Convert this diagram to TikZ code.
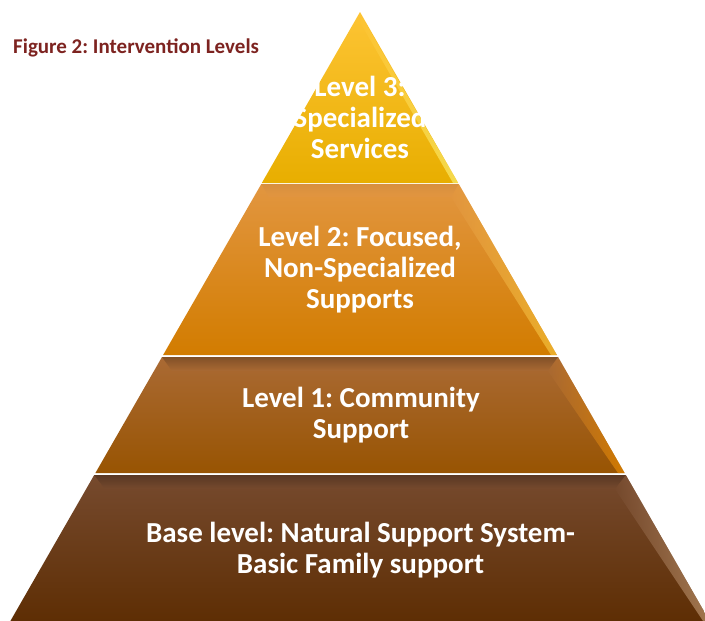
\documentclass[tikz,border=0pt]{standalone}
\usepackage{fontspec}
\setmainfont{Carlito}
\usetikzlibrary{calc}
\definecolor{figred}{RGB}{125,35,32}
\definecolor{goldtop}{RGB}{253,196,52}
\definecolor{goldbot}{RGB}{232,174,0}
\definecolor{ambertop}{RGB}{226,150,64}
\definecolor{amberbot}{RGB}{210,124,0}
\definecolor{rusttop}{RGB}{170,106,52}
\definecolor{rustbot}{RGB}{152,84,2}
\definecolor{browntop}{RGB}{118,74,46}
\definecolor{brownbot}{RGB}{94,46,4}
\definecolor{blush}{RGB}{242,200,176}
\newcommand{\lvltext}{\fontsize{29}{31}\selectfont\bfseries\frenchspacing}
\tikzset{
  tierlabel/.style={anchor=base,align=center,inner sep=0,text=white,font=\lvltext},
  bevel/.style={opacity=0.95},
  edgestrip/.style={opacity=0.55}
}

\begin{document}
\begin{tikzpicture}[x=1pt,y=-1pt]
    \useasboundingbox (0,0) rectangle (705,621);
    % the four tiers, apex at (360,12)
    \shade[top color=goldtop,bottom color=goldbot] (360,12) -- (458.2,183) -- (261.8,183) -- cycle;
    \shade[top color=ambertop,bottom color=amberbot] (261.3,184) -- (458.7,184) -- (556.9,355) -- (163.1,355) -- cycle;
    \shade[top color=rusttop,bottom color=rustbot] (162,357) -- (558,357) -- (624.6,473) -- (95.4,473) -- cycle;
    \shade[top color=browntop,bottom color=brownbot] (94.2,475) -- (625.8,475) -- (709.6,621) -- (10.4,621) -- cycle;
    % bevels on top of the tiers
    \shade[bevel,top color=ambertop!70!brown,middle color=blush!70!yellow,bottom color=ambertop] (261.3,184) -- (458.7,184) -- (451,197) -- (269,197) -- cycle;
    \shade[bevel,top color=rusttop!75!black,middle color=blush,bottom color=rusttop] (162,357) -- (558,357) -- (548,371) -- (172,371) -- cycle;
    \shade[bevel,top color=browntop!75!black,middle color=blush!85!brown,bottom color=browntop] (94.2,475) -- (625.8,475) -- (615,489) -- (105,489) -- cycle;
    % light strips along the right edges
    \shade[edgestrip,left color=goldtop,right color=yellow!45!white] (360,14) -- (458.2,183) -- (453,183) -- (361,24) -- cycle;
    \shade[edgestrip,left color=ambertop,right color=yellow!55!orange!70!white] (451,197) -- (458.7,184) -- (556.9,355) -- (551,355) -- cycle;
    \shade[edgestrip,left color=rusttop,right color=orange!80!yellow] (548,371) -- (558,357) -- (624.6,473) -- (618,473) -- cycle;
    \shade[edgestrip,left color=browntop,right color=brown!60!white] (615,489) -- (625.8,475) -- (709.6,621) -- (703,621) -- cycle;

    \node[anchor=base west,inner sep=0,text=figred,font=\fontsize{21}{24}\selectfont\bfseries\frenchspacing](fig) at (13,53) {Figure 2: Intervention Levels};
    \node[tierlabel](lvl3) at (360,158) {Level 3:\\Specialized\\Services};
    \node[tierlabel](lvl2) at (360,308) {Level 2: Focused,\\Non-Specialized\\Supports};
    \node[tierlabel](lvl1) at (361,438) {Level 1: Community\\Support};
    \node[tierlabel](base) at (360.5,573) {Base level: Natural Support System-\\Basic Family support};
\end{tikzpicture}
\end{document}
